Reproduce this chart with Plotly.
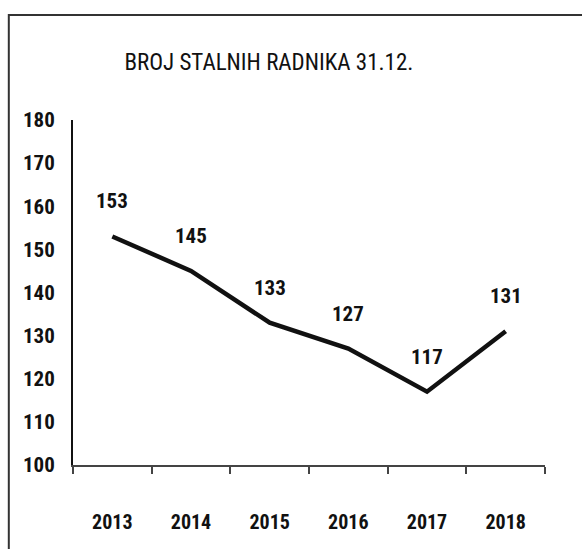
import plotly.graph_objects as go

years = ["2013", "2014", "2015", "2016", "2017", "2018"]
workers = [153, 145, 133, 127, 117, 131]
y_ticks = [100, 110, 120, 130, 140, 150, 160, 170, 180]

FONT = "Roboto Condensed, Open Sans Condensed, sans-serif"

fig = go.Figure(
    go.Scatter(
        x=years,
        y=workers,
        mode="lines",
        line=dict(color="#111111", width=4.5),
        hoverinfo="x+y",
    )
)

# value labels above each point (numeric index on the category axis)
for i, val in enumerate(workers):
    fig.add_annotation(
        x=i,
        y=val,
        text=str(val),
        showarrow=False,
        yshift=35,
        font=dict(family=FONT, size=21, color="#111111", weight="bold"),
    )

# outer frame of the scanned chart
fig.add_shape(
    type="rect",
    xref="paper",
    yref="paper",
    x0=-0.136,
    x1=1.2,
    y0=-0.4,
    y1=1.304,
    line=dict(color="#333333", width=2),
)

fig.update_layout(
    width=582,
    height=549,
    margin=dict(l=73, r=37, t=120, b=84),
    plot_bgcolor="white",
    paper_bgcolor="white",
    showlegend=False,
    title=dict(
        text="BROJ STALNIH RADNIKA 31.12.",
        x=0.462,
        xanchor="center",
        y=0.887,
        yanchor="middle",
        font=dict(family=FONT, size=23, color="#111111"),
    ),
    xaxis=dict(
        type="category",
        range=[-0.5, 5.5],
        showgrid=False,
        showline=True,
        linecolor="#444444",
        linewidth=2,
        ticks="outside",
        tickson="boundaries",
        ticklen=7,
        tickwidth=2,
        tickcolor="#444444",
        ticklabelstandoff=38,
        tickfont=dict(family=FONT, size=20, color="#111111", weight="bold"),
    ),
    yaxis=dict(
        range=[100, 180],
        tickvals=y_ticks,
        showgrid=False,
        zeroline=False,
        showline=True,
        linecolor="#111111",
        linewidth=2,
        ticklabelstandoff=12,
        tickfont=dict(family=FONT, size=21, color="#111111", weight="bold"),
    ),
)

fig.write_html(
    "out.html",
    config={"displayModeBar": False},
    post_script="document.body.style.margin='0'",
)
